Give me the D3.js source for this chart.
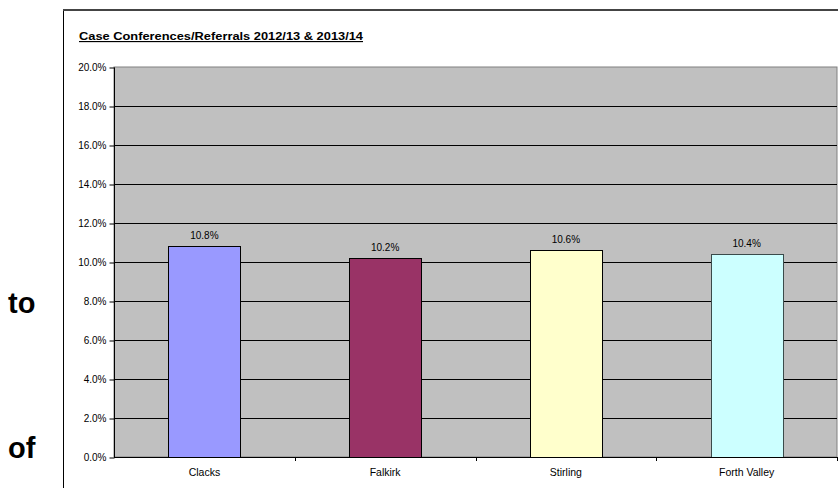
<!DOCTYPE html>
<html>
<head>
<meta charset="utf-8">
<script src="https://cdn.jsdelivr.net/npm/d3@7/dist/d3.min.js"></script>
<style>
  html, body { margin: 0; padding: 0; background: #fff; }
  svg { display: block; }
  text { font-family: "Liberation Sans", Arial, sans-serif; }
</style>
</head>
<body>
<svg id="chart" width="838" height="488"></svg>
<script>
// Chart data
const categories = ["Clacks", "Falkirk", "Stirling", "Forth Valley"];
const values = [10.8, 10.2, 10.6, 10.4];
const barColors = ["#9999FF", "#993366", "#FFFFCC", "#CCFFFF"];
const yTicks = [0, 2, 4, 6, 8, 10, 12, 14, 16, 18, 20];
const title = "Case Conferences/Referrals 2012/13 & 2013/14";
const sideWords = ["to", "of"];

const svg = d3.select("#chart");
const W = 838, H = 488;

// Chart frame (left and top edges visible)
svg.append("line").attr("x1", 63.5).attr("x2", 63.5).attr("y1", 10).attr("y2", H)
  .attr("stroke", "#000").attr("stroke-width", 1);
svg.append("line").attr("x1", 63).attr("x2", W).attr("y1", 10).attr("y2", 10)
  .attr("stroke", "#444").attr("stroke-width", 2);

// Body text fragments to the left of the chart frame
svg.selectAll("text.side").data(sideWords).join("text")
  .attr("class", "side")
  .attr("x", 8)
  .attr("y", (d, i) => i === 0 ? 313 : 458)
  .attr("font-size", 29)
  .attr("font-weight", "bold")
  .attr("fill", "#000")
  .text(d => d);

const plot = { left: 114, right: 837, top: 67, bottom: 457 };

const x = d3.scaleBand().domain(categories).range([plot.left, plot.right]).paddingInner(0).paddingOuter(0);
const y = d3.scaleLinear().domain([0, 20]).range([plot.bottom, plot.top]);

// Plot area
svg.append("rect")
  .attr("x", plot.left).attr("y", plot.top)
  .attr("width", plot.right - plot.left).attr("height", plot.bottom - plot.top)
  .attr("fill", "#C0C0C0").attr("stroke", "#808080").attr("stroke-width", 1);

// Horizontal gridlines
svg.selectAll("line.grid").data(yTicks.filter(t => t > 0 && t < 20)).join("line")
  .attr("class", "grid")
  .attr("x1", plot.left).attr("x2", plot.right)
  .attr("y1", d => Math.round(y(d)) + 0.5).attr("y2", d => Math.round(y(d)) + 0.5)
  .attr("stroke", "#000").attr("stroke-width", 1);

// Bars
const bw = 72;
svg.selectAll("rect.bar").data(values).join("rect")
  .attr("class", "bar")
  .attr("x", (d, i) => Math.round(x(categories[i]) + x.bandwidth() / 2 - bw / 2) + 0.5)
  .attr("y", d => Math.round(y(d)) + 0.5)
  .attr("width", bw)
  .attr("height", d => Math.round(y(0)) - Math.round(y(d)))
  .attr("fill", (d, i) => barColors[i])
  .attr("stroke", (d, i) => i === 3 ? "#3a4a4a" : "#000")
  .attr("stroke-width", 1);

// Value labels
svg.selectAll("text.val").data(values).join("text")
  .attr("class", "val")
  .attr("x", (d, i) => x(categories[i]) + x.bandwidth() / 2)
  .attr("y", d => y(d) - 7)
  .attr("text-anchor", "middle")
  .attr("font-size", 10)
  .attr("fill", "#000")
  .text(d => d.toFixed(1) + "%");

// Y axis
const yAxis = d3.axisLeft(y).tickValues(yTicks).tickFormat(d => d.toFixed(1) + "%").tickSize(5).tickPadding(3);
const gy = svg.append("g").attr("transform", `translate(${plot.left + 0.5},0.5)`).call(yAxis);
gy.select(".domain").attr("stroke", "#000").attr("d", `M0,${plot.top}V${plot.bottom}`);
gy.selectAll(".tick line").attr("stroke", "#000");
gy.selectAll(".tick text").attr("font-size", 10).attr("font-family", "Liberation Sans, Arial, sans-serif").attr("fill", "#000");

// X axis
const xAxis = d3.axisBottom(x).tickSize(0).tickPadding(11);
const gx = svg.append("g").attr("transform", `translate(0,${plot.bottom + 0.5})`).call(xAxis);
gx.select(".domain").attr("stroke", "#000").attr("d", `M${plot.left},0H${plot.right}`);
gx.selectAll(".tick text").attr("font-size", 10.5).attr("font-family", "Liberation Sans, Arial, sans-serif").attr("fill", "#000");

// Category boundary tick marks
const bounds = categories.map(c => x(c)).concat([plot.right]).slice(1);
svg.selectAll("line.xtick").data(bounds).join("line")
  .attr("class", "xtick")
  .attr("x1", d => Math.round(d) + 0.5).attr("x2", d => Math.round(d) + 0.5)
  .attr("y1", plot.bottom).attr("y2", plot.bottom + 4)
  .attr("stroke", "#000");

// Title, bold and underlined
svg.append("text")
  .attr("x", 79).attr("y", 40)
  .attr("font-size", 11.5)
  .attr("font-weight", "bold")
  .attr("text-decoration", "underline")
  .attr("textLength", 284)
  .attr("lengthAdjust", "spacingAndGlyphs")
  .attr("fill", "#000")
  .text(title);
</script>
</body>
</html>
